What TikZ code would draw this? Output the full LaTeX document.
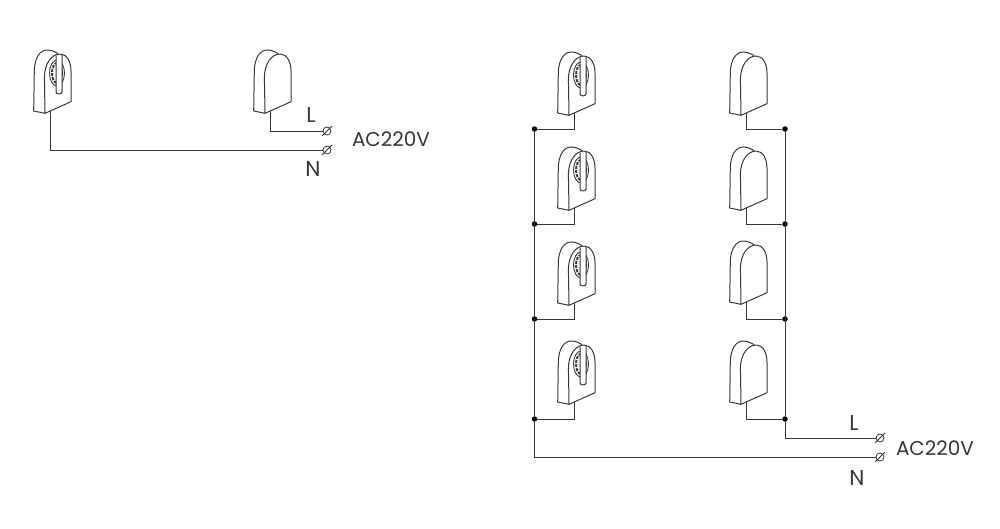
\documentclass[tikz,border=0pt]{standalone}
\usepackage{fontspec}
\setmainfont{Poppins}
\usepackage{tikz}
\usetikzlibrary{positioning}

\definecolor{wirecol}{RGB}{55,55,55}

\newcommand{\holderbody}{
    \draw[outline] (-5,2.3) -- (-16.3,0) -- (-15.7,-40)
      .. controls (-15.5,-53) and (-10,-61) .. (-3,-61)
      .. controls (1,-61) and (4,-59.8) .. (8,-57.4);
    \draw[outline] (-5,2.3) -- (-5.6,-34)
      .. controls (-5.4,-48) and (2,-57) .. (10,-57)
      .. controls (17,-57) and (21,-49) .. (21,-40)
      -- (21,-9.3) -- cycle;
}

\tikzset{
  wire/.style={draw=wirecol, line width=0.95pt},
  outline/.style={draw=wirecol, line width=1pt, line join=round},
  junction/.style={circle, fill=black, inner sep=0pt, minimum size=5.5pt},
  terminal/.style={circle, draw=wirecol, line width=0.8pt, fill=white, inner sep=0pt, minimum size=8pt},
  slash/.style={draw=wirecol, line width=0.8pt},
  marklabel/.style={font=\fontsize{20}{20}\selectfont, text=wirecol, inner sep=0pt},
  biglabel/.style={font=\fontsize{21.5}{21.5}\selectfont, text=wirecol, inner sep=0pt},
  pics/plainholder/.style={code={\holderbody}},
  pics/slotholder/.style={code={
    \holderbody
    \draw[outline, line width=0.9pt] (7,-38) ellipse [x radius=7.5, y radius=13];
    \draw[outline, line width=1.9pt, dash pattern=on 3pt off 1.2pt] (7,-38) ellipse [x radius=5, y radius=10];
    \fill[white] (6,-55) rectangle (12,-18);
    \draw[outline] (6,-55.5) -- (6,-19) .. controls (6,-16.5) and (12,-16.5) .. (12,-19) -- (12,-57);
  }},
}

\begin{document}
\begin{tikzpicture}[x=1pt, y=-1pt]
\useasboundingbox (0,0) rectangle (1000,528);

% left circuit
\coordinate (A) at (50,111);
\coordinate (B) at (270,111);
\pic at (A) {slotholder};
\pic at (B) {plainholder};
\node[terminal] (TL) at (327,131) {};
\node[terminal] (TN) at (327,150) {};
\draw[wire] (B) |- (TL);
\draw[wire] (A) |- (TN);
\node[biglabel] (labL) at (311,115) {L};
\node[biglabel] (labN) at (313,169) {N};
\node[marklabel] (labAC) at (391,139) {AC220V};

% right circuit
\foreach \name/\y in {1/113, 2/208, 3/303, 4/402} {
  \coordinate (S\name) at (574,\y);
  \pic at (S\name) {slotholder};
}
\foreach \name/\y in {1/113, 2/208, 3/302, 4/402} {
  \coordinate (P\name) at (746,\y);
  \pic at (P\name) {plainholder};
}
\foreach \name/\y in {1/129, 2/224, 3/319, 4/419} {
  \node[junction] (JS\name) at (534.5,\y) {};
  \node[junction] (JP\name) at (785,\y) {};
  \draw[wire] (S\name) |- (JS\name);
  \draw[wire] (P\name) |- (JP\name);
}
\node[terminal] (RL) at (880,438) {};
\node[terminal] (RN) at (880,457) {};
\draw[wire] (JS1) -- (JS4);
\draw[wire] (JP1) -- (JP4);
\draw[wire] (JS4) |- (RN);
\draw[wire] (JP4) |- (RL);
\node[biglabel] (labL2) at (854,423) {L};
\node[biglabel] (labN2) at (857,478) {N};
\node[marklabel] (labAC2) at (935,448) {AC220V};

% screw slots on the terminals
\foreach \t in {TL,TN,RL,RN}
  \draw[slash] ([shift={(-5,5)}]\t.center) -- ([shift={(5,-5)}]\t.center);

\end{tikzpicture}
\end{document}
